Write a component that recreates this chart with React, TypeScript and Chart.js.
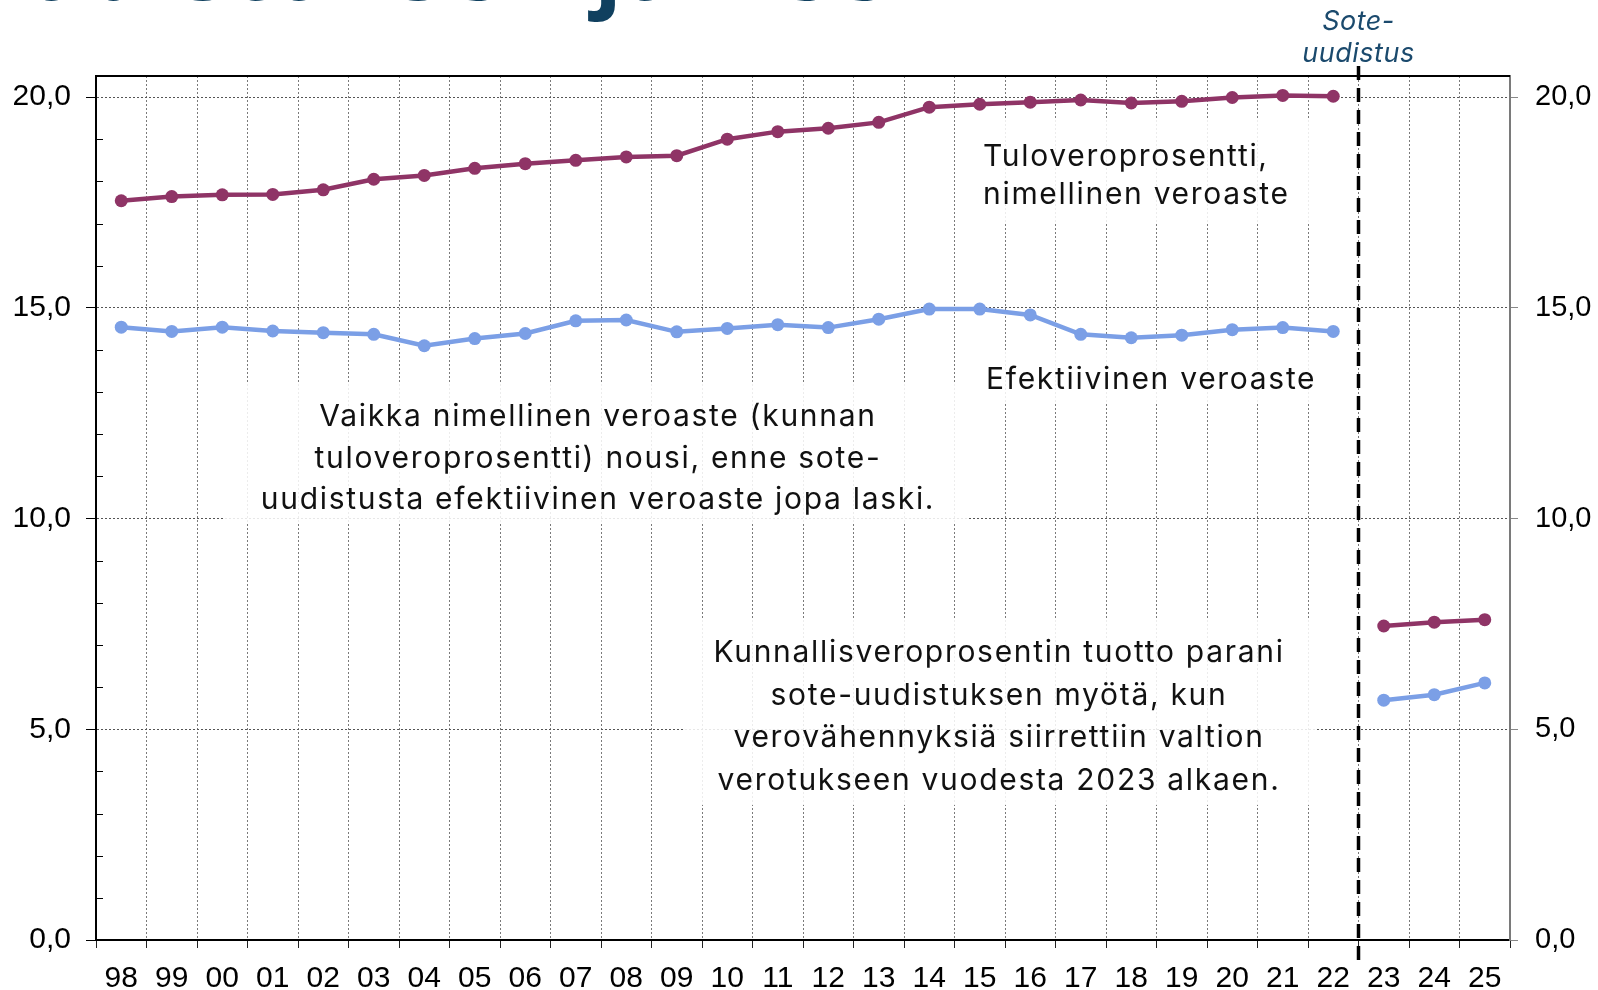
import React, { useEffect, useRef } from "react";
import { Chart, registerables } from "chart.js";

Chart.register(...registerables);

// ---- data ----
const years = [
  "98", "99", "00", "01", "02", "03", "04", "05", "06", "07", "08", "09", "10", "11",
  "12", "13", "14", "15", "16", "17", "18", "19", "20", "21", "22", "23", "24", "25",
];
const tuloveroprosentti = [
  17.54, 17.64, 17.68, 17.69, 17.8, 18.05, 18.14, 18.31, 18.42, 18.5, 18.58, 18.61, 19.0, 19.18,
  19.26, 19.4, 19.76, 19.83, 19.88, 19.93, 19.86, 19.9, 19.99, 20.04, 20.02, 7.45, 7.54, 7.6,
];
const efektiivinenVeroaste = [
  14.54, 14.44, 14.54, 14.45, 14.41, 14.37, 14.1, 14.27, 14.39, 14.69, 14.71, 14.43, 14.51, 14.6,
  14.53, 14.73, 14.97, 14.97, 14.83, 14.37, 14.29, 14.35, 14.48, 14.53, 14.44, 5.69, 5.82, 6.1,
];
const yMajorTicks = [0, 5, 10, 15, 20];
const reformYear = "23";
const reformLabel = ["Sote-", "uudistus"];
const titleText = "Kunnallisveron tuotto parani sote-uudistuksen jälkeen";
const noteNominal = ["Tuloveroprosentti,", "nimellinen veroaste"];
const noteEffective = ["Efektiivinen veroaste"];
const noteBefore = [
  "Vaikka nimellinen veroaste (kunnan",
  "tuloveroprosentti) nousi, enne sote-",
  "uudistusta efektiivinen veroaste jopa laski.",
];
const noteAfter = [
  "Kunnallisveroprosentin tuotto parani",
  "sote-uudistuksen myötä, kun",
  "verovähennyksiä siirrettiin valtion",
  "verotukseen vuodesta 2023 alkaen.",
];

// ---- styles / layout ----
const PURPLE = "#8f3466";
const BLUE = "#7b9fe6";
const NAVY = "#1b4a6d";
const TICK_FONT = "Liberation Sans";
const NOTE_FONT = "Inter";

const notes = [
  { lines: noteNominal, align: "left", x: 983, y: 157, gap: 38, box: [958, 120, 1322, 222] },
  { lines: noteEffective, align: "left", x: 986, y: 380, gap: 38, box: [958, 352, 1334, 402] },
  { lines: noteBefore, align: "center", x: 598, y: 417, gap: 41.5, box: [224, 382, 968, 522] },
  { lines: noteAfter, align: "center", x: 999, y: 653, gap: 42.5, box: [685, 620, 1315, 805] },
];

const fmt = (v: number) => v.toFixed(1).replace(".", ",");

const decorPlugin = {
  id: "decor",
  beforeDatasetsDraw(chart: any) {
    const ctx = chart.ctx;
    ctx.save();
    ctx.fillStyle = "rgba(255,255,255,0.86)";
    for (const n of notes) {
      const [x0, y0, x1, y1] = n.box;
      ctx.fillRect(x0, y0, x1 - x0, y1 - y0);
    }
    ctx.restore();
  },
  afterDatasetsDraw(chart: any) {
    const ctx = chart.ctx;
    const area = chart.chartArea;
    const xs = chart.scales.x;
    const ys = chart.scales.y;
    ctx.save();

    // top border
    ctx.strokeStyle = "#000";
    ctx.lineWidth = 2;
    ctx.beginPath();
    ctx.moveTo(area.left - 1, area.top);
    ctx.lineTo(area.right, area.top);
    ctx.stroke();

    // minor ticks (inside) on left axis
    ctx.lineWidth = 1;
    for (let v = 1; v < 20.5; v++) {
      if (v % 5 === 0) continue;
      const y = Math.round(ys.getPixelForValue(v)) + 0.5;
      ctx.beginPath();
      ctx.moveTo(area.left, y);
      ctx.lineTo(area.left + 7, y);
      ctx.stroke();
    }

    // notes text
    ctx.fillStyle = "#111";
    ctx.font = `30px ${NOTE_FONT}`;
    (ctx as any).letterSpacing = "1.7px";
    ctx.textBaseline = "middle";
    for (const n of notes) {
      ctx.textAlign = n.align as CanvasTextAlign;
      n.lines.forEach((line, i) => ctx.fillText(line, n.x, n.y + i * n.gap));
    }
    (ctx as any).letterSpacing = "0px";

    // reform dashed line
    const ri = years.indexOf(reformYear);
    const xr = (xs.getPixelForValue(ri - 1) + xs.getPixelForValue(ri)) / 2;
    ctx.strokeStyle = "#000";
    ctx.lineWidth = 3.5;
    ctx.setLineDash([14, 8]);
    ctx.beginPath();
    ctx.moveTo(xr, 66);
    ctx.lineTo(xr, 964);
    ctx.stroke();
    ctx.setLineDash([]);

    // reform label
    ctx.fillStyle = NAVY;
    ctx.font = `italic 27px ${NOTE_FONT}`;
    (ctx as any).letterSpacing = "0.5px";
    ctx.textAlign = "center";
    ctx.fillText(reformLabel[0], xr, 22);
    ctx.fillText(reformLabel[1], xr, 54);
    (ctx as any).letterSpacing = "0px";

    // cropped title (only the bottom of it lies inside the picture)
    ctx.font = `bold 92px "Open Sans"`;
    (ctx as any).letterSpacing = "3px";
    ctx.textAlign = "left";
    ctx.textBaseline = "alphabetic";
    ctx.fillStyle = "#10405f";
    const jIdx = titleText.indexOf("jälkeen");
    const pre = ctx.measureText(titleText.slice(0, jIdx)).width;
    ctx.fillText(titleText, 594 - pre, 0);
    (ctx as any).letterSpacing = "0px";

    ctx.restore();
  },
};

export default function App() {
  const ref = useRef<HTMLCanvasElement | null>(null);
  useEffect(() => {
    if (!ref.current) return;
    const ri = years.indexOf(reformYear);
    const seg = (color: string) => ({
      borderColor: (c: any) => (c.p0DataIndex === ri - 1 ? "rgba(0,0,0,0)" : color),
    });
    const chart = new Chart(ref.current, {
      type: "line",
      data: {
        labels: years,
        datasets: [
          {
            label: "Tuloveroprosentti, nimellinen veroaste",
            data: tuloveroprosentti,
            borderColor: PURPLE,
            backgroundColor: PURPLE,
            borderWidth: 4.5,
            pointRadius: 6.5,
            pointBorderWidth: 0,
            pointBackgroundColor: PURPLE,
            segment: seg(PURPLE),
            tension: 0,
          },
          {
            label: "Efektiivinen veroaste",
            data: efektiivinenVeroaste,
            borderColor: BLUE,
            backgroundColor: BLUE,
            borderWidth: 4.5,
            pointRadius: 6.5,
            pointBorderWidth: 0,
            pointBackgroundColor: BLUE,
            segment: seg(BLUE),
            tension: 0,
          },
        ],
      },
      options: {
        responsive: false,
        animation: false,
        layout: { padding: { top: 76, left: 0, right: 0, bottom: 0 } },
        plugins: { legend: { display: false }, tooltip: { enabled: false } },
        scales: {
          x: {
            type: "category",
            offset: true,
            grid: {
              offset: true,
              color: (c: any) => (c.index === 0 || c.index >= years.length ? "rgba(0,0,0,0)" : "#7a7a7a"),
              lineWidth: 1,
              tickLength: 8,
              tickColor: "#222",
              tickWidth: 1,
            },
            border: { display: true, color: "#000", width: 2, dash: [2, 2] },
            ticks: {
              color: "#000",
              font: { family: TICK_FONT, size: 30 },
              padding: 13,
              maxRotation: 0,
              autoSkip: false,
            },
            afterFit: (s: any) => {
              s.height = 50;
            },
          },
          y: {
            position: "left",
            min: 0,
            max: 20.5,
            afterBuildTicks: (s: any) => {
              s.ticks = yMajorTicks.map((v) => ({ value: v }));
            },
            grid: {
              color: (c: any) => (c.tick && c.tick.value === 0 ? "rgba(0,0,0,0)" : "#555"),
              lineWidth: 1,
              tickLength: 10,
              tickColor: "#000",
              tickWidth: 1,
            },
            border: { display: true, color: "#000", width: 2, dash: [2, 2] },
            ticks: {
              color: "#000",
              font: { family: TICK_FONT, size: 30 },
              padding: 15,
              callback: (v: any) => fmt(Number(v)),
            },
            afterFit: (s: any) => {
              s.width = 96;
            },
          },
          y2: {
            position: "right",
            min: 0,
            max: 20.5,
            afterBuildTicks: (s: any) => {
              s.ticks = yMajorTicks.map((v) => ({ value: v }));
            },
            grid: {
              drawOnChartArea: false,
              tickLength: 8,
              tickColor: "#888",
              tickWidth: 1,
            },
            border: { display: true, color: "#7a7a7a", width: 2 },
            ticks: {
              color: "#000",
              font: { family: TICK_FONT, size: 29 },
              padding: 17,
              callback: (v: any) => fmt(Number(v)),
            },
            afterFit: (s: any) => {
              s.width = 88;
            },
          },
        },
      } as any,
      plugins: [decorPlugin],
    });
    return () => chart.destroy();
  }, []);

  return (
    <div style={{ position: "absolute", left: 0, top: 0, width: 1598, height: 990, background: "#fff" }}>
      <canvas ref={ref} width={1598} height={990} style={{ display: "block" }} />
    </div>
  );
}
